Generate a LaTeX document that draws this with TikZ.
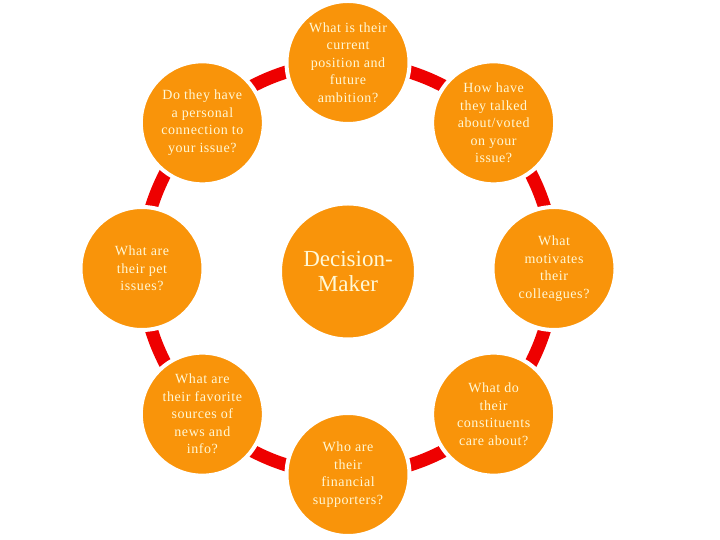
\documentclass[tikz,border=0pt]{standalone}
\usepackage{fontspec}
\setmainfont{Liberation Serif}
\newfontfamily\spacedserif{Liberation Serif}[LetterSpace=4]
\usetikzlibrary{backgrounds}
\definecolor{orangefill}{RGB}{249,148,10}
\definecolor{linkred}{RGB}{238,0,0}
\definecolor{creamtext}{RGB}{255,248,214}
\begin{document}
\begin{tikzpicture}[x=1pt,y=1pt,
  outer/.style={circle,fill=orangefill,draw=white,line width=4pt,minimum size=123pt,inner sep=0pt},
  hub/.style={circle,fill=orangefill,draw=white,line width=2pt,minimum size=134pt,inner sep=0pt},
  qtext/.style={text=creamtext,align=center,inner sep=0pt,font=\spacedserif\fontsize{14}{17.5}\selectfont},
  htext/.style={text=creamtext,align=center,inner sep=0pt,font=\fontsize{23}{25}\selectfont},
  link/.style={draw=linkred,line width=13pt,looseness=0.885}]
\useasboundingbox (0,0) rectangle (720,540);
\begin{scope}[shift={(348pt,271.5pt)}]
\node[outer,label={[qtext]center:{What is their\\current\\position and\\future\\ambition?}}] (n90) at (90:206pt) {};
\node[outer,label={[qtext]center:{How have\\they talked\\about/voted\\on your\\issue?}}] (n45) at (45:206pt) {};
\node[outer,label={[qtext]center:{What\\motivates\\their\\colleagues?}}] (n0) at (0:206pt) {};
\node[outer,label={[qtext]center:{What do\\their\\constituents\\care about?}}] (n315) at (-45:206pt) {};
\node[outer,label={[qtext]center:{Who are\\their\\financial\\supporters?}}] (n270) at (-90:206pt) {};
\node[outer,label={[qtext]center:{What are\\their favorite\\sources of\\news and\\info?}}] (n225) at (-135:206pt) {};
\node[outer,label={[qtext]center:{What are\\their pet\\issues?}}] (n180) at (180:206pt) {};
\node[outer,label={[qtext]center:{Do they have\\a personal\\connection to\\your issue?}}] (n135) at (135:206pt) {};
\node[hub,label={[htext]center:{Decision-\\Maker}}] (dm) at (0pt,-3pt) {};
\end{scope}
\begin{pgfonlayer}{background}
\draw[link] (n0.center) to[bend right=22.5] (n45.center);
\draw[link] (n45.center) to[bend right=22.5] (n90.center);
\draw[link] (n90.center) to[bend right=22.5] (n135.center);
\draw[link] (n135.center) to[bend right=22.5] (n180.center);
\draw[link] (n180.center) to[bend right=22.5] (n225.center);
\draw[link] (n225.center) to[bend right=22.5] (n270.center);
\draw[link] (n270.center) to[bend right=22.5] (n315.center);
\draw[link] (n315.center) to[bend right=22.5] (n0.center);
\end{pgfonlayer}
\end{tikzpicture}
\end{document}
